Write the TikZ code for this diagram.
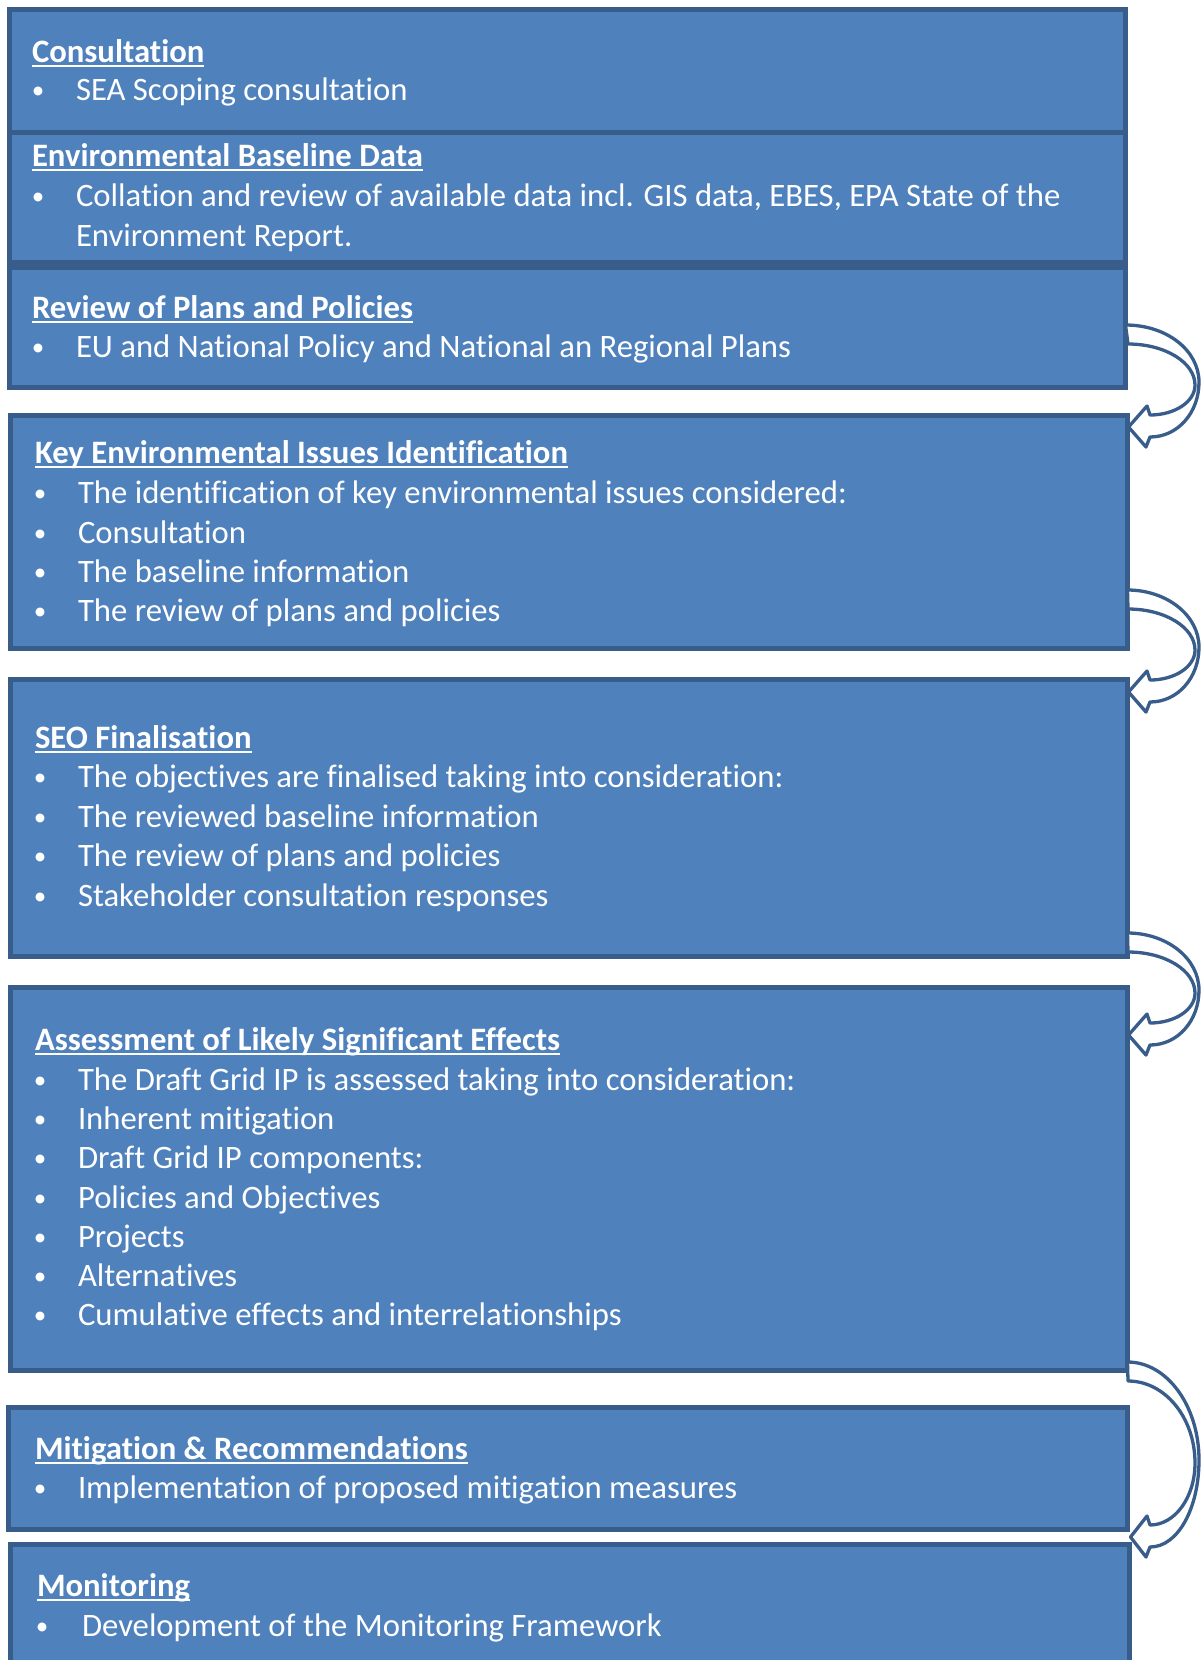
\documentclass[tikz,border=0pt]{standalone}
\usepackage{fontspec}
\setmainfont{Carlito}[Ligatures={NoCommon,NoContextual}]
\definecolor{boxfill}{HTML}{4F81BD}
\definecolor{boxline}{HTML}{385D8A}
\newcommand\fs{\fontsize{32.7}{39.5}\selectfont}
\newsavebox\hdbox
\newcommand\uhd[1]{\sbox\hdbox{#1}\rlap{\rule[-5pt]{\wd\hdbox}{2.2pt}}\usebox\hdbox}
\newcommand\smallbullet{\raisebox{2pt}{\fontsize{25}{25}\selectfont\textbullet}}
\tikzset{
 box/.style={draw=boxline, fill=boxfill, line width=5pt, anchor=north west, inner sep=0pt, outer sep=0pt},
 txt/.style={anchor=base west, inner sep=0pt, outer sep=0pt, text=white, font=\fs},
 hdr/.style={txt, font=\fs\bfseries},
 bul/.style={anchor=base, inner sep=0pt, outer sep=0pt, text=white, font=\fs},
 arr/.style={draw=boxline, fill=white, line width=3.3pt, line join=round}
}
\newcommand\hd[3]{\node[hdr] (#1) at (#2) {\uhd{#3}};}
\newcommand\bl[5]{\node[bul] (#1d) at (#2,#4) {\smallbullet}; \node[txt] (#1) at (#3,#4) {#5};}
% curved arrow: name, from box, to box, A (outer start y), T (tip y)
\newcommand\carrow[5]{%
 \pgfmathsetmacro\ym{#4+0.56*(#5-#4)}%
 \pgfmathsetmacro\ymA{\ym-0.552*(\ym-#4)}%
 \pgfmathsetmacro\ymB{\ym+0.552*(#5+10-\ym)}%
 \pgfmathsetmacro\ymi{\ym+3}%
 \pgfmathsetmacro\ymiB{\ymi+0.552*(#5-12-\ymi)}%
 \pgfmathsetmacro\ymiA{\ymi-0.552*(\ymi-#4-19)}%
 \coordinate (#1s) at (#2.east |- 0,#4);
 \coordinate (#1t) at (#3.east |- 0,#5);
 \draw[arr] (#1s) .. controls (1167,#4) and (1199,\ymA) .. (1199,\ym)
   .. controls (1199,\ymB) and (1178,#5+10) .. (1150,#5+10)
   -- (1146,#5+20) -- ([xshift=1pt]#1t) -- (1147,#5-21) -- (1150,#5-12)
   .. controls (1175,#5-12) and (1195,\ymiB) .. (1195,\ymi)
   .. controls (1195,\ymiA) and (1165,#4+19) .. (1128,#4+19) -- cycle;
}
\begin{document}
\begin{tikzpicture}[x=1pt,y=-1pt]
\useasboundingbox (0,0) rectangle (1201,1660);
\fill[white] (0,0) rectangle (1201,1660);
\clip (0,0) rectangle (1201,1660);

\node[box, minimum width=1116pt, minimum height=123pt] (b1) at (9.5,9.5) {};
\node[box, minimum width=1116pt, minimum height=130pt] (b2) at (9.5,132) {};
\node[box, minimum width=1116pt, minimum height=120.5pt] (b3) at (9.5,267) {};
\node[box, minimum width=1117pt, minimum height=233pt] (b4) at (10.5,415.5) {};
\node[box, minimum width=1117pt, minimum height=277pt] (b5) at (10.5,679.5) {};
\node[box, minimum width=1117pt, minimum height=383pt] (b6) at (10.5,987.5) {};
\node[box, minimum width=1119pt, minimum height=122pt] (b7) at (8.5,1407.5) {};
\node[box, minimum width=1119pt, minimum height=140pt] (b8) at (10.5,1544.5) {};

% box 1
\hd{h1}{32,62}{Consultation}
\bl{t11}{38}{76}{100}{SEA Scoping consultation}
% box 2
\hd{h2}{32,166}{Environmental Baseline Data}
\bl{t21}{38}{76}{206}{Collation and review of available data incl. GIS data, EBES, EPA State of the}
\node[txt] (t22) at (76,246) {Environment Report.};
% box 3
\hd{h3}{32,318}{Review of Plans and Policies}
\bl{t31}{38}{76}{357}{EU and National Policy and National an Regional Plans}
% box 4
\hd{h4}{35,463}{Key Environmental Issues Identification}
\bl{t41}{40}{78}{503}{The identification of key environmental issues considered:}
\bl{t42}{40}{78}{543}{Consultation}
\bl{t43}{40}{78}{582}{The baseline information}
\bl{t44}{40}{78}{621}{The review of plans and policies}
% box 5
\hd{h5}{35,748}{SEO Finalisation}
\bl{t51}{40}{78}{787}{The objectives are finalised taking into consideration:}
\bl{t52}{40}{78}{827}{The reviewed baseline information}
\bl{t53}{40}{78}{866}{The review of plans and policies}
\bl{t54}{40}{78}{906}{Stakeholder consultation responses}
% box 6
\hd{h6}{35,1050}{Assessment of Likely Significant Effects}
\bl{t61}{40}{78}{1090}{The Draft Grid IP is assessed taking into consideration:}
\bl{t62}{40}{78}{1129}{Inherent mitigation}
\bl{t63}{40}{78}{1168}{Draft Grid IP components:}
\bl{t64}{40}{78}{1208}{Policies and Objectives}
\bl{t65}{40}{78}{1247}{Projects}
\bl{t66}{40}{78}{1286}{Alternatives}
\bl{t67}{40}{78}{1325}{Cumulative effects and interrelationships}
% box 7
\hd{h7}{35,1459}{Mitigation \& Recommendations}
\bl{t71}{40}{78}{1498}{Implementation of proposed mitigation measures}
% box 8
\hd{h8}{37,1596}{Monitoring}
\bl{t81}{42}{82}{1636}{Development of the Monitoring Framework}

% curved arrows
\carrow{a1}{b3}{b4}{325}{427}
\carrow{a2}{b4}{b5}{590}{692}
\carrow{a3}{b5}{b6}{933}{1035}
\carrow{a4}{b6}{b8}{1362}{1537}
\end{tikzpicture}
\end{document}
